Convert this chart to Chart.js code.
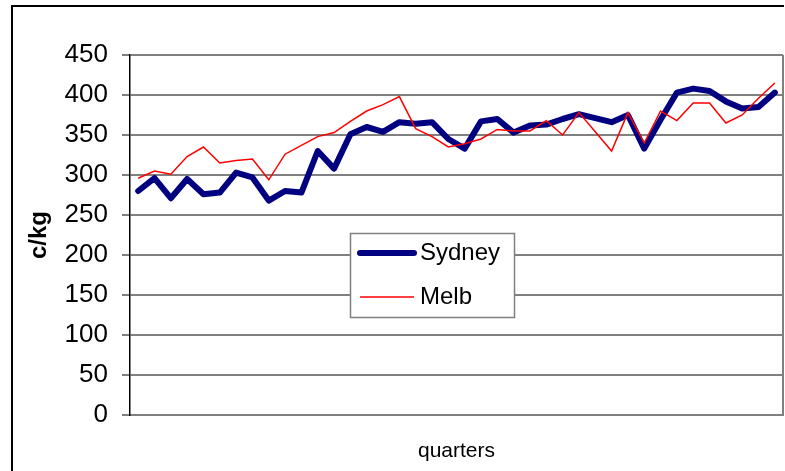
<!DOCTYPE html>
<html>
<head>
<meta charset="utf-8">
<script src="https://cdn.jsdelivr.net/npm/chart.js@4/dist/chart.umd.min.js"></script>
<style>
  html, body { margin: 0; padding: 0; background: #fff; }
  #wrap { width: 785px; height: 471px; }
</style>
</head>
<body>
<div id="wrap"><canvas id="c" width="785" height="471"></canvas></div>
<script>
// Quarterly prices, cents per kilogram
const quarters = ['1','2','3','4','5','6','7','8','9','10',
                  '11','12','13','14','15','16','17','18','19','20',
                  '21','22','23','24','25','26','27','28','29','30',
                  '31','32','33','34','35','36','37','38','39','40'];

const sydney = [280, 296, 271, 295, 276, 278, 303, 297, 268, 280,
                278, 330, 308, 351, 360, 354, 366, 364, 366, 345,
                333, 367, 370, 353, 362, 363, 370, 376, 371, 366,
                375, 333, 369, 403, 408, 405, 392, 383, 385, 403];

const melb = [296, 305, 301, 323, 335, 315, 318, 320, 294, 326,
              337, 348, 353, 367, 380, 388, 398, 358, 348, 335,
              339, 345, 357, 355, 355, 368, 350, 378, 354, 330,
              378, 340, 380, 368, 390, 390, 365, 375, 396, 415];

const yMin = 0, yMax = 450, yStep = 50;

const FONT = "'Liberation Sans', Arial, sans-serif";

// Page frame, right border of the plot, and the boxed legend
const decorations = {
  id: 'decorations',
  beforeDraw(chart) {
    const ctx = chart.ctx;
    ctx.save();
    ctx.fillStyle = '#ffffff';
    ctx.fillRect(0, 0, chart.width, chart.height);
    ctx.restore();
  },
  beforeDatasetsDraw(chart) {
    const { ctx, chartArea: a } = chart;
    ctx.save();
    ctx.strokeStyle = '#808080';
    ctx.lineWidth = 2;
    ctx.beginPath();
    ctx.moveTo(a.right, a.top);
    ctx.lineTo(a.right, a.bottom);
    ctx.stroke();
    ctx.restore();
  },
  afterDatasetsDraw(chart) {
    const ctx = chart.ctx;
    ctx.save();
    // legend box
    const bx = 350, by = 233, bw = 164, bh = 84;
    ctx.fillStyle = '#ffffff';
    ctx.fillRect(bx, by, bw, bh);
    ctx.strokeStyle = '#808080';
    ctx.lineWidth = 1.5;
    ctx.strokeRect(bx + 0.5, by + 0.5, bw, bh);
    const rowY = [253, 297];
    chart.data.datasets.forEach((ds, i) => {
      const y = rowY[i];
      ctx.strokeStyle = ds.borderColor;
      ctx.lineWidth = ds.borderWidth;
      ctx.lineCap = ds.borderCapStyle || 'butt';
      ctx.beginPath();
      ctx.moveTo(360, y);
      ctx.lineTo(414, y);
      ctx.stroke();
      ctx.fillStyle = '#000000';
      ctx.font = '24px ' + FONT;
      ctx.textAlign = 'left';
      ctx.textBaseline = 'middle';
      ctx.fillText(ds.label, 420, y);
    });
    // outer frame (left and top edges)
    ctx.strokeStyle = '#000000';
    ctx.lineWidth = 2;
    ctx.lineCap = 'butt';
    ctx.beginPath();
    ctx.moveTo(12, 471);
    ctx.lineTo(12, 6);
    ctx.lineTo(784, 6);
    ctx.stroke();
    ctx.restore();
  }
};

new Chart(document.getElementById('c'), {
  type: 'line',
  data: {
    labels: quarters,
    datasets: [
      {
        label: 'Sydney',
        data: sydney,
        borderColor: '#000080',
        borderWidth: 6,
        borderCapStyle: 'round',
        borderJoinStyle: 'round',
        pointRadius: 0,
        tension: 0,
        fill: false,
        order: 2
      },
      {
        label: 'Melb',
        data: melb,
        borderColor: '#ff0000',
        borderWidth: 1.5,
        borderCapStyle: 'butt',
        borderJoinStyle: 'miter',
        pointRadius: 0,
        tension: 0,
        fill: false,
        order: 1
      }
    ]
  },
  options: {
    responsive: false,
    animation: false,
    devicePixelRatio: 1,
    layout: { padding: { top: 55, right: 2, bottom: 0, left: 0 } },
    plugins: {
      legend: { display: false },
      tooltip: { enabled: false },
      title: { display: false }
    },
    scales: {
      x: {
        type: 'category',
        offset: true,
        grid: { display: false },
        border: { display: true, color: '#808080', width: 2 },
        ticks: { display: false },
        title: {
          display: true,
          text: 'quarters',
          color: '#000000',
          font: { family: FONT, size: 21 },
          padding: { top: 0, bottom: 7 }
        },
        afterFit(scale) { scale.height = 56; }
      },
      y: {
        min: yMin,
        max: yMax,
        ticks: {
          stepSize: yStep,
          color: '#000000',
          font: { family: FONT, size: 26 },
          padding: 14
        },
        grid: {
          color: '#808080',
          lineWidth: 2,
          drawTicks: true,
          tickLength: 8,
          tickColor: '#808080'
        },
        border: { display: true, color: '#000000', width: 1.5 },
        title: {
          display: true,
          text: 'c/kg',
          color: '#000000',
          font: { family: FONT, size: 24, weight: 'bold' },
          padding: { top: 25, bottom: 0 }
        },
        afterFit(scale) { scale.width = 130; }
      }
    }
  },
  plugins: [decorations]
});
</script>
</body>
</html>
